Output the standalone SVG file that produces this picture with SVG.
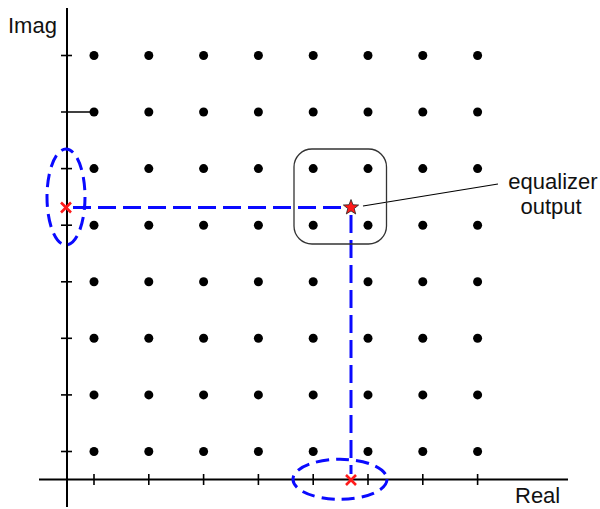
<svg xmlns="http://www.w3.org/2000/svg" width="600" height="509" viewBox="0 0 600 509">
<style>
.axis{stroke:#000;stroke-width:2;fill:none}
.tick{stroke:#000;stroke-width:1.6;fill:none}
.dot{fill:#000}
.dash{stroke:#0a0aff;stroke-width:3;fill:none;stroke-dasharray:18 7}
.ell{stroke:#0a0aff;stroke-width:3;fill:none;stroke-dasharray:13 7}
.cross{stroke:#ff1a1a;stroke-width:2.6;fill:none}
.lbl{font-family:"Liberation Sans",Arial,sans-serif;font-size:22px;fill:#111}
</style>
<rect width="600" height="509" fill="#fff"/>
<g id="axes">
<line class="axis" x1="67" y1="8" x2="67" y2="507"/>
<line class="axis" x1="39" y1="479.5" x2="568" y2="479.5"/>
<g class="tick">
<line x1="61" y1="55.5" x2="72" y2="55.5"/>
<line x1="61" y1="112" x2="94" y2="112"/>
<line x1="61" y1="168.6" x2="72" y2="168.6"/>
<line x1="61" y1="225.2" x2="72" y2="225.2"/>
<line x1="61" y1="281.8" x2="72" y2="281.8"/>
<line x1="61" y1="338.3" x2="72" y2="338.3"/>
<line x1="61" y1="394.9" x2="72" y2="394.9"/>
<line x1="61" y1="451.5" x2="72" y2="451.5"/>
<line x1="94" y1="474" x2="94" y2="485"/>
<line x1="148.8" y1="474" x2="148.8" y2="485"/>
<line x1="203.6" y1="474" x2="203.6" y2="485"/>
<line x1="258.4" y1="474" x2="258.4" y2="485"/>
<line x1="313.2" y1="474" x2="313.2" y2="485"/>
<line x1="368" y1="474" x2="368" y2="485"/>
<line x1="422.8" y1="474" x2="422.8" y2="485"/>
<line x1="477.6" y1="474" x2="477.6" y2="485"/>
</g>
<text class="lbl" x="8" y="33">Imag</text>
<text class="lbl" x="515" y="503">Real</text>
</g>
<g id="constellation" class="dot">
<circle cx="94" cy="55.5" r="4.5"/><circle cx="148.8" cy="55.5" r="4.5"/><circle cx="203.6" cy="55.5" r="4.5"/><circle cx="258.4" cy="55.5" r="4.5"/><circle cx="313.2" cy="55.5" r="4.5"/><circle cx="368" cy="55.5" r="4.5"/><circle cx="422.8" cy="55.5" r="4.5"/><circle cx="477.6" cy="55.5" r="4.5"/>
<circle cx="94" cy="112" r="4.5"/><circle cx="148.8" cy="112" r="4.5"/><circle cx="203.6" cy="112" r="4.5"/><circle cx="258.4" cy="112" r="4.5"/><circle cx="313.2" cy="112" r="4.5"/><circle cx="368" cy="112" r="4.5"/><circle cx="422.8" cy="112" r="4.5"/><circle cx="477.6" cy="112" r="4.5"/>
<circle cx="94" cy="168.6" r="4.5"/><circle cx="148.8" cy="168.6" r="4.5"/><circle cx="203.6" cy="168.6" r="4.5"/><circle cx="258.4" cy="168.6" r="4.5"/><circle cx="313.2" cy="168.6" r="4.5"/><circle cx="368" cy="168.6" r="4.5"/><circle cx="422.8" cy="168.6" r="4.5"/><circle cx="477.6" cy="168.6" r="4.5"/>
<circle cx="94" cy="225.2" r="4.5"/><circle cx="148.8" cy="225.2" r="4.5"/><circle cx="203.6" cy="225.2" r="4.5"/><circle cx="258.4" cy="225.2" r="4.5"/><circle cx="313.2" cy="225.2" r="4.5"/><circle cx="368" cy="225.2" r="4.5"/><circle cx="422.8" cy="225.2" r="4.5"/><circle cx="477.6" cy="225.2" r="4.5"/>
<circle cx="94" cy="281.8" r="4.5"/><circle cx="148.8" cy="281.8" r="4.5"/><circle cx="203.6" cy="281.8" r="4.5"/><circle cx="258.4" cy="281.8" r="4.5"/><circle cx="313.2" cy="281.8" r="4.5"/><circle cx="368" cy="281.8" r="4.5"/><circle cx="422.8" cy="281.8" r="4.5"/><circle cx="477.6" cy="281.8" r="4.5"/>
<circle cx="94" cy="338.3" r="4.5"/><circle cx="148.8" cy="338.3" r="4.5"/><circle cx="203.6" cy="338.3" r="4.5"/><circle cx="258.4" cy="338.3" r="4.5"/><circle cx="313.2" cy="338.3" r="4.5"/><circle cx="368" cy="338.3" r="4.5"/><circle cx="422.8" cy="338.3" r="4.5"/><circle cx="477.6" cy="338.3" r="4.5"/>
<circle cx="94" cy="394.9" r="4.5"/><circle cx="148.8" cy="394.9" r="4.5"/><circle cx="203.6" cy="394.9" r="4.5"/><circle cx="258.4" cy="394.9" r="4.5"/><circle cx="313.2" cy="394.9" r="4.5"/><circle cx="368" cy="394.9" r="4.5"/><circle cx="422.8" cy="394.9" r="4.5"/><circle cx="477.6" cy="394.9" r="4.5"/>
<circle cx="94" cy="451.5" r="4.5"/><circle cx="148.8" cy="451.5" r="4.5"/><circle cx="203.6" cy="451.5" r="4.5"/><circle cx="258.4" cy="451.5" r="4.5"/><circle cx="313.2" cy="451.5" r="4.5"/><circle cx="368" cy="451.5" r="4.5"/><circle cx="422.8" cy="451.5" r="4.5"/><circle cx="477.6" cy="451.5" r="4.5"/>
</g>
<g id="connectors">
<line class="dash" x1="73" y1="207.5" x2="343" y2="207.5"/>
<line class="dash" x1="351" y1="215" x2="351" y2="474"/>
<line x1="363" y1="206" x2="498" y2="184" stroke="#000" stroke-width="1.2"/>
</g>
<g id="region">
<rect x="294" y="149" width="92.5" height="95" rx="18" ry="18" fill="none" stroke="#333" stroke-width="1.3"/>
</g>
<g id="imag-ellipse">
<ellipse class="ell" cx="66" cy="197" rx="19" ry="48"/>
<path class="cross" d="M61 202.5L71 212.5M61 212.5L71 202.5"/>
</g>
<g id="real-ellipse">
<ellipse class="ell" cx="340" cy="479.3" rx="47" ry="20"/>
<path class="cross" d="M346 475L356 485M346 485L356 475"/>
</g>
<g id="star">
<polygon points="351,199.5 353,204.75 358.61,205.03 354.23,208.55 355.7,213.97 351,210.9 346.3,213.97 347.77,208.55 343.39,205.03 349,204.75" fill="#ff1a1a" stroke="#222" stroke-width="0.8"/>
</g>
<g id="label">
<text class="lbl" x="553" y="189" text-anchor="middle">equalizer</text>
<text class="lbl" x="551" y="214" text-anchor="middle">output</text>
</g>
</svg>
